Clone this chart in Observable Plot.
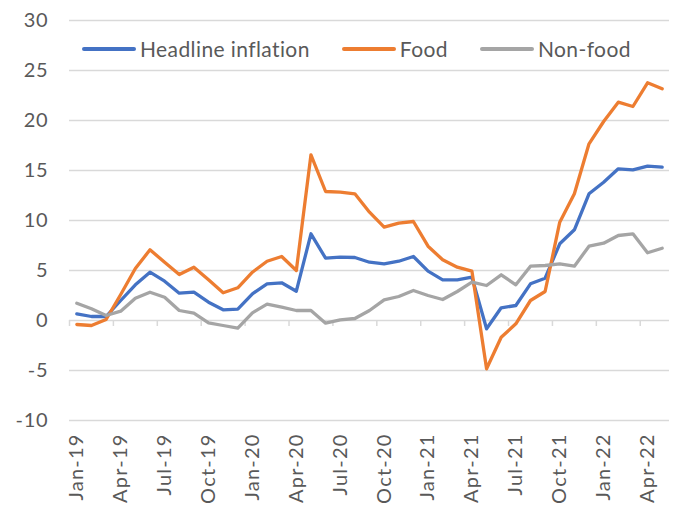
<!DOCTYPE html>
<html>
<head>
<meta charset="utf-8">
<script src="https://cdn.jsdelivr.net/npm/d3@7"></script>
<script src="https://cdn.jsdelivr.net/npm/@observablehq/plot@0.6"></script>
<style>
  html, body { margin: 0; padding: 0; background: #fff; }
  #wrap { position: relative; width: 678px; height: 505px; font-family: Lato, "Open Sans", sans-serif; }
  #legend { position: absolute; left: 82px; top: 36px; display: flex; align-items: center; font-size: 21px; letter-spacing: 0.4px; color: #595959; }
  #legend .item { display: flex; align-items: center; margin-right: 32px; }
  #legend .sw { width: 54px; height: 4px; border-radius: 2px; margin-right: 4px; }
  #wrap svg g[aria-label="x-axis tick label"] text { letter-spacing: 1.2px; }
  #wrap svg g[aria-label="y-axis tick label"] text { letter-spacing: 0.8px; }
</style>
</head>
<body>
<div id="wrap"><div id="legend"></div></div>
<script>
const months = ["Jan-19","Feb-19","Mar-19","Apr-19","May-19","Jun-19","Jul-19","Aug-19","Sep-19","Oct-19","Nov-19","Dec-19",
  "Jan-20","Feb-20","Mar-20","Apr-20","May-20","Jun-20","Jul-20","Aug-20","Sep-20","Oct-20","Nov-20","Dec-20",
  "Jan-21","Feb-21","Mar-21","Apr-21","May-21","Jun-21","Jul-21","Aug-21","Sep-21","Oct-21","Nov-21","Dec-21",
  "Jan-22","Feb-22","Mar-22","Apr-22","May-22"];
const headline = [0.67,0.4,0.4,2.0,3.57,4.83,3.93,2.73,2.83,1.83,1.07,1.13,2.67,3.67,3.77,2.93,8.67,6.23,6.33,6.3,5.83,5.67,5.93,6.4,4.93,4.07,4.07,4.33,-0.83,1.27,1.5,3.67,4.23,7.67,9.07,12.67,13.83,15.17,15.07,15.43,15.33];
const food = [-0.4,-0.5,0.1,2.6,5.2,7.07,5.83,4.6,5.33,4.07,2.77,3.27,4.83,5.93,6.4,5.0,16.57,12.9,12.83,12.67,10.83,9.33,9.73,9.9,7.43,6.07,5.33,4.93,-4.83,-1.67,-0.33,2.0,2.9,9.83,12.67,17.67,19.9,21.83,21.4,23.77,23.17];
const nonfood = [1.73,1.17,0.5,0.93,2.23,2.83,2.33,1.0,0.73,-0.23,-0.5,-0.77,0.77,1.63,1.33,1.0,1.0,-0.27,0.07,0.2,1.0,2.07,2.4,3.0,2.5,2.1,2.9,3.83,3.5,4.57,3.57,5.43,5.5,5.67,5.43,7.43,7.73,8.5,8.67,6.77,7.23];
const seriesNames = ["Headline inflation", "Food", "Non-food"];
const seriesColors = ["#4472C4", "#ED7D31", "#A5A5A5"];
const yTicks = [-10, -5, 0, 5, 10, 15, 20, 25, 30];
const tickLabelIdx = [0,3,6,9,12,15,18,21,24,27,30,33,36,39];

const seriesValues = [headline, food, nonfood];
const rows = seriesValues.flatMap((vals, s) => vals.map((v, i) => ({i, v, s: seriesNames[s]})));
const boundaries = tickLabelIdx.map(i => i - 0.5);

const chart = Plot.plot({
  width: 678,
  height: 505,
  marginLeft: 69,
  marginRight: 9,
  marginTop: 20,
  marginBottom: 85,
  style: {fontFamily: "Lato, 'Open Sans', sans-serif", fontSize: "20px", color: "#595959", background: "transparent"},
  x: {type: "linear", domain: [-0.5, months.length - 0.5]},
  y: {domain: [-10, 30]},
  color: {domain: seriesNames, range: seriesColors},
  marks: [
    Plot.ruleY(yTicks, {stroke: "#d9d9d9", strokeWidth: 1.5}),
    Plot.ruleX(boundaries, {x: d => d, y1: 0, y2: 0, insetBottom: -6, stroke: "#d9d9d9", strokeWidth: 1.5}),
    Plot.axisY(yTicks, {tickSize: 0, tickPadding: 21, tickFormat: d => String(d), fontSize: 20, fill: "#595959", label: null}),
    Plot.axisX(tickLabelIdx, {tickSize: 0, tickPadding: 13, tickRotate: -90, tickFormat: i => months[i], fontSize: 20, fill: "#595959", label: null}),
    Plot.line(rows, {x: "i", y: "v", z: "s", stroke: "s", strokeWidth: 3.3, strokeLinejoin: "round", strokeLinecap: "round"})
  ]
});
document.getElementById("wrap").prepend(chart);

const legend = document.getElementById("legend");
seriesNames.forEach((name, k) => {
  const item = document.createElement("div");
  item.className = "item";
  const sw = document.createElement("span");
  sw.className = "sw";
  sw.style.background = seriesColors[k];
  const t = document.createElement("span");
  t.textContent = name;
  item.append(sw, t);
  legend.append(item);
});
</script>
</body>
</html>
